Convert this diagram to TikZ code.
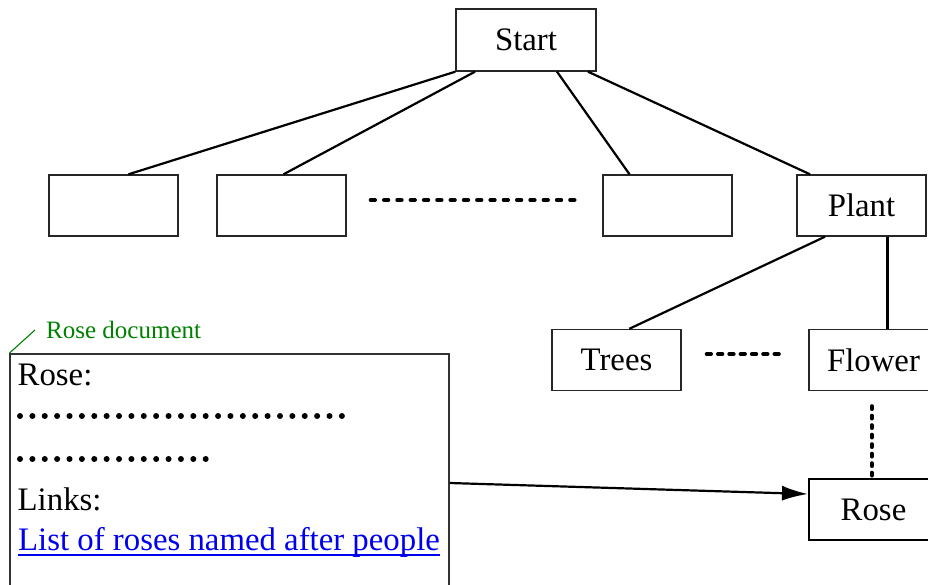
\documentclass[tikz,border=0pt]{standalone}
\usepackage{fontspec}
\setmainfont{Liberation Serif}
\usetikzlibrary{arrows.meta}
\definecolor{docgreen}{RGB}{0,128,0}
\definecolor{linkblue}{RGB}{0,0,238}
\begin{document}
\begin{tikzpicture}[x=1pt,y=-1pt,
  box/.style={draw=black!85,line width=1.4pt,rectangle,minimum width=129pt,minimum height=61pt,inner sep=0pt,font=\fontsize{32.8}{39}\selectfont},
  conn/.style={line width=2.2pt},
  txt/.style={inner sep=0pt,anchor=base west,font=\fontsize{32.8}{39}\selectfont},
  dashA/.style={line width=4pt,line cap=round,dash pattern=on 4.3pt off 9pt},
  dashB/.style={line width=4pt,line cap=round,dash pattern=on 4.3pt off 7pt},
  dashC/.style={line width=4pt,line cap=round,dash pattern=on 2.8pt off 6.7pt},
  dotrow/.style={line width=6pt,line cap=round,dash pattern=on 0pt off 12.38pt}]
\useasboundingbox (0,0) rectangle (928,585);
% tree nodes
\node[box,minimum width=140pt,minimum height=62pt] (start) at (526,40) {Start};
\node[box] (b1) at (113.5,205.5) {};
\node[box] (b2) at (281.5,205.5) {};
\node[box] (b3) at (667.5,205.5) {};
\node[box] (plant) at (861.5,205.5) {Plant};
\node[box] (trees) at (616.5,360) {Trees};
\node[box] (flower) at (873.5,360) {Flower};
\node[box,line width=2pt,draw=black] (rose) at (873.5,509.5) {Rose};
% tree connectors
\draw[conn] (start.south west) -- ([xshift=15pt]b1.north);
\draw[conn] ([xshift=-51pt]start.south) -- ([xshift=2pt]b2.north);
\draw[conn] ([xshift=31pt]start.south) -- ([xshift=-38pt]b3.north);
\draw[conn] ([xshift=62pt]start.south) -- ([xshift=-51.5pt]plant.north);
\draw[conn] ([xshift=-36.5pt]plant.south) -- ([xshift=12.8pt]trees.north);
\draw[conn] ([xshift=26pt]plant.south) -- ([xshift=26pt]plant.south |- flower.north);
% dashed connectors
\draw[dashA] ([xshift=24pt,yshift=5.5pt]b2.east) -- ([xshift=-26pt,yshift=5.5pt]b3.west);
\draw[dashB] ([xshift=25pt,yshift=6pt]trees.east) -- ([xshift=-27pt,yshift=6pt]flower.west);
\draw[dashC] ([xshift=-1.8pt,yshift=-15pt]flower.south) -- ([xshift=-1.8pt]rose.north);
% document box
\node[draw=black!80,line width=1.5pt,rectangle,minimum width=439pt,minimum height=258pt,inner sep=0pt] (doc) at (229.5,483) {};
\coordinate (lbl) at (35,330);
\draw[docgreen,line width=1.1pt] (doc.north west) -- (lbl);
\node[inner sep=0pt,anchor=base west,text=docgreen,font=\fontsize{25}{30}\selectfont] (doclabel) at (46,338) {Rose document};
\node[txt] (rosetxt) at (17.5,385) {Rose:};
\coordinate (d1a) at (20,416);
\coordinate (d1b) at (343,416);
\coordinate (d2a) at (20,459);
\coordinate (d2b) at (209,459);
\draw[dotrow] (d1a) -- (d1b);
\draw[dotrow] (d2a) -- (d2b);
\node[txt] (links) at (17.5,510) {Links:};
\node[txt,text=linkblue] (link) at (18,550) {List of roses named after people};
\draw[linkblue,line width=1.7pt] ([yshift=-5pt]link.base west) -- ([yshift=-5pt]link.base east);
% arrow
\draw[line width=2.2pt,-{Latex[length=26pt,width=15pt]}] (doc.east) -- ([yshift=15.5pt]rose.west);
\end{tikzpicture}
\end{document}
